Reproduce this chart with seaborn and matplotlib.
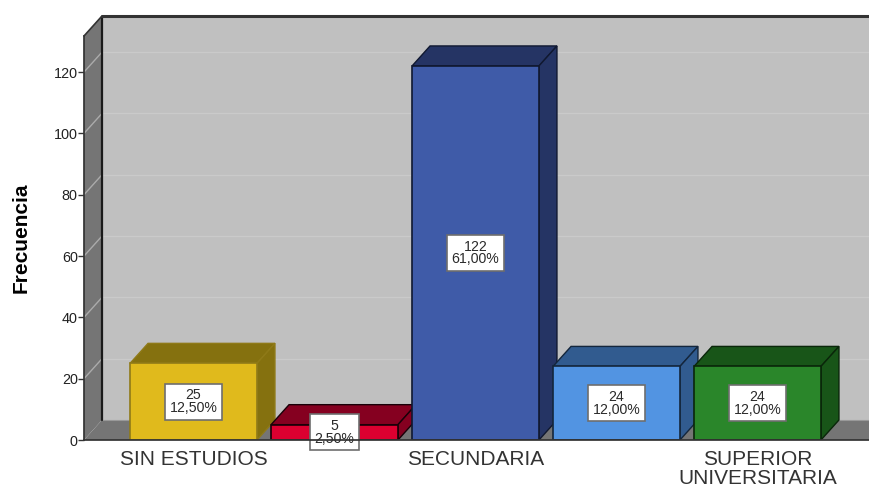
import matplotlib
matplotlib.use("Agg")
import matplotlib.pyplot as plt
from matplotlib.patches import Polygon
import seaborn as sns

categories = ["SIN ESTUDIOS", "PRIMARIA", "SECUNDARIA", "SUPERIOR NO UNIVERSITARIA", "SUPERIOR UNIVERSITARIA"]
tick_labels = ["SIN ESTUDIOS", "", "SECUNDARIA", "", "SUPERIOR\nUNIVERSITARIA"]
counts = [25, 5, 122, 24, 24]
percents = ["12,50%", "2,50%", "61,00%", "12,00%", "12,00%"]
front_colors = ["#E0BA1C", "#DC0030", "#3F5BA8", "#5294E2", "#2A862A"]
side_colors = ["#85710F", "#850020", "#253464", "#315B8F", "#185518"]
edge_colors = ["#8F7A18", "#1A0008", "#101830", "#14263C", "#0A260A"]
y_ticks = [0, 20, 40, 60, 80, 100, 120]

W, H = 869, 488
PX_LEFT, PX_RIGHT, PX_TOP, PX_ZERO = 84, 869, 16, 440
PX_PER_CAT, PX_PER_UNIT = 141.0, 3.066
PX_FIRST = 193.5
DX, DY = 18 / PX_PER_CAT, 20 / PX_PER_UNIT

sns.set_theme(style="white")
plt.rcParams["font.family"] = ["Liberation Sans", "DejaVu Sans"]

fig = plt.figure(figsize=(W / 100, H / 100), dpi=100, facecolor="white")
ax = fig.add_axes([PX_LEFT / W, 1 - PX_ZERO / H, (PX_RIGHT - PX_LEFT) / W, (PX_ZERO - PX_TOP) / H])

sns.barplot(x=categories, y=counts, hue=categories, order=categories, hue_order=categories,
            palette=front_colors, width=0.9, legend=False, ax=ax, saturation=1)

xmin = -(PX_FIRST - PX_LEFT) / PX_PER_CAT
xmax = (PX_RIGHT - PX_FIRST) / PX_PER_CAT
ymax = (PX_ZERO - PX_TOP) / PX_PER_UNIT
ax.set_xlim(xmin, xmax)
ax.set_ylim(0, ymax)
ax.set_facecolor("none")
ax.grid(False)

# Back wall, left wall and floor of the 3D box
ax.add_patch(Polygon([(xmin + DX, DY), (xmin + DX, ymax), (xmax, ymax), (xmax, DY)],
                     closed=True, fc="#C0C0C0", ec="none", zorder=0.9))
ax.add_patch(Polygon([(xmin, 0), (xmin + DX, DY), (xmin + DX, ymax), (xmin, ymax - DY)],
                     closed=True, fc="#757575", ec="none", zorder=1))
ax.add_patch(Polygon([(xmin, 0), (xmin + DX, DY), (xmax, DY), (xmax, 0)],
                     closed=True, fc="#757575", ec="none", zorder=1))
# Gridlines follow the wall
for t in y_ticks[1:]:
    ax.plot([xmin, xmin + DX], [t, t + DY], color="#ABABAB", lw=1, zorder=1.2)
    ax.plot([xmin + DX, xmax], [t + DY, t + DY], color="#CACACA", lw=1, zorder=1.2)
ax.plot([xmin + DX, xmin + DX], [DY, ymax], color="#1A1A1A", lw=1.6, zorder=1.5)
ax.plot([xmin + DX, xmax], [ymax, ymax], color="#333333", lw=2.2, zorder=1.5, clip_on=False)
ax.plot([xmin, xmin + DX], [ymax - DY, ymax], color="#333333", lw=1.2, zorder=1.5, clip_on=False)
ax.plot([xmin + DX, xmax], [DY, DY], color="#999999", lw=0.8, zorder=1.3)

for i, (bar, value) in enumerate(zip(ax.patches, counts)):
    x0, x1 = bar.get_x(), bar.get_x() + bar.get_width()
    z = 3 + i
    bar.set_edgecolor(edge_colors[i])
    bar.set_linewidth(1.2)
    bar.set_zorder(z)
    ax.add_patch(Polygon([(x0, value), (x0 + DX, value + DY), (x1 + DX, value + DY), (x1, value)],
                         closed=True, fc=side_colors[i], ec=edge_colors[i], lw=1.0, zorder=z - 0.5))
    ax.add_patch(Polygon([(x1, 0), (x1 + DX, DY), (x1 + DX, value + DY), (x1, value)],
                         closed=True, fc=side_colors[i], ec=edge_colors[i], lw=1.0, zorder=z - 0.5))
    ax.text(i, value / 2, f"{value}\n{percents[i]}", ha="center", va="center", fontsize=10.2,
            color="#2A2A2A", linespacing=0.9, zorder=20,
            bbox=dict(boxstyle="square,pad=0.32", fc="white", ec="#6E6E6E", lw=1.2))

ax.set_xticks(range(len(categories)))
ax.set_xticklabels(tick_labels, fontsize=15, color="#333333", linespacing=1.05)
ax.set_yticks(y_ticks)
ax.set_yticklabels([str(t) for t in y_ticks], fontsize=10.4, color="#222222")
ax.tick_params(axis="x", length=0, pad=7)
ax.tick_params(axis="y", left=True, length=4, width=1, color="#333333", pad=0.5)
for side in ("top", "right"):
    ax.spines[side].set_visible(False)
ax.spines["left"].set_color("#333333")
ax.spines["left"].set_bounds(0, ymax - DY)
ax.spines["bottom"].set_color("#333333")
ax.spines["left"].set_zorder(30)
ax.spines["bottom"].set_zorder(30)
ax.set_ylabel("Frecuencia", fontsize=15, fontweight="bold", color="black")
ax.yaxis.set_label_coords((31 - PX_LEFT) / (PX_RIGHT - PX_LEFT), (PX_ZERO - 237.5) / (PX_ZERO - PX_TOP))

fig.savefig("out.png", dpi=100)
